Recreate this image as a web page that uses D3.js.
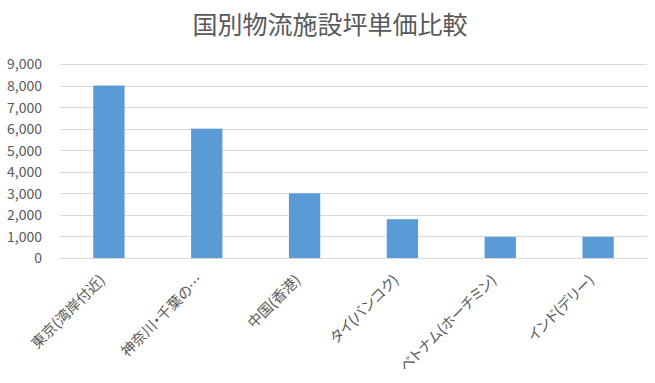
<!DOCTYPE html>
<html>
<head>
<meta charset="utf-8">
<script src="https://cdn.jsdelivr.net/npm/d3@7"></script>
<style>
  body { margin: 0; background: #fff; }
  svg text { font-family: "Noto Sans CJK JP", "Noto Sans", sans-serif; fill: #595959; }
</style>
</head>
<body>
<svg id="chart"></svg>
<script>
// data
var categories = ["東京(湾岸付近)", "神奈川・千葉の…", "中国(香港)", "タイ(バンコク)", "ベトナム(ホーチミン)", "インド(デリー)"];
var prices = [8000, 6000, 3000, 1800, 980, 980];
var yTicks = [0, 1000, 2000, 3000, 4000, 5000, 6000, 7000, 8000, 9000];

var width = 655, height = 383;
var plotLeft = 60, plotRight = 647, plotTop = 64, plotBottom = 258;

var svg = d3.select('#chart')
    .attr('width', width)
    .attr('height', height);

var x = d3.scaleBand()
    .domain(categories)
    .range([plotLeft, plotRight])
    .paddingInner(0.68)
    .paddingOuter(0.34);

var y = d3.scaleLinear()
    .domain([0, 9000])
    .range([plotBottom, plotTop]);

// title
svg.append('text')
    .attr('x', 330)
    .attr('y', 34)
    .attr('text-anchor', 'middle')
    .style('font-size', '25px')
    .text('国別物流施設坪単価比較');

// gridlines
svg.append('g')
    .selectAll('line')
    .data(yTicks)
    .enter()
    .append('line')
    .attr('x1', plotLeft)
    .attr('x2', plotRight)
    .attr('y1', function(d) { return Math.round(y(d)) + 0.5; })
    .attr('y2', function(d) { return Math.round(y(d)) + 0.5; })
    .attr('stroke', '#d9d9d9')
    .attr('stroke-width', 1);

// y axis labels
var yAxis = svg.append('g')
    .attr('transform', 'translate(' + (plotLeft - 15) + ',0)')
    .call(d3.axisLeft(y).tickValues(yTicks).tickSize(0).tickFormat(d3.format(',')));
yAxis.select('.domain').remove();
yAxis.selectAll('text')
    .style('font-size', '14px')
    .attr('font-family', null)
    .attr('dy', '0.35em');

// bars
svg.append('g')
    .selectAll('rect')
    .data(prices)
    .enter()
    .append('rect')
    .attr('x', function(d, i) { return x(categories[i]); })
    .attr('y', function(d) { return y(d); })
    .attr('width', x.bandwidth())
    .attr('height', function(d) { return plotBottom - y(d); })
    .attr('fill', '#5b9bd5');

// x labels (proportional kana like the original)
var xAxis = svg.append('g')
    .attr('transform', 'translate(0,' + plotBottom + ')')
    .call(d3.axisBottom(x).tickSize(0));
xAxis.select('.domain').remove();
xAxis.selectAll('text')
    .style('font-size', '14.5px')
    .style('font-feature-settings', '"palt"')
    .attr('font-family', null)
    .attr('text-anchor', 'end')
    .attr('dy', null)
    .attr('y', 0)
    .attr('transform', 'translate(-3,23) rotate(-45)');
</script>
</body>
</html>
